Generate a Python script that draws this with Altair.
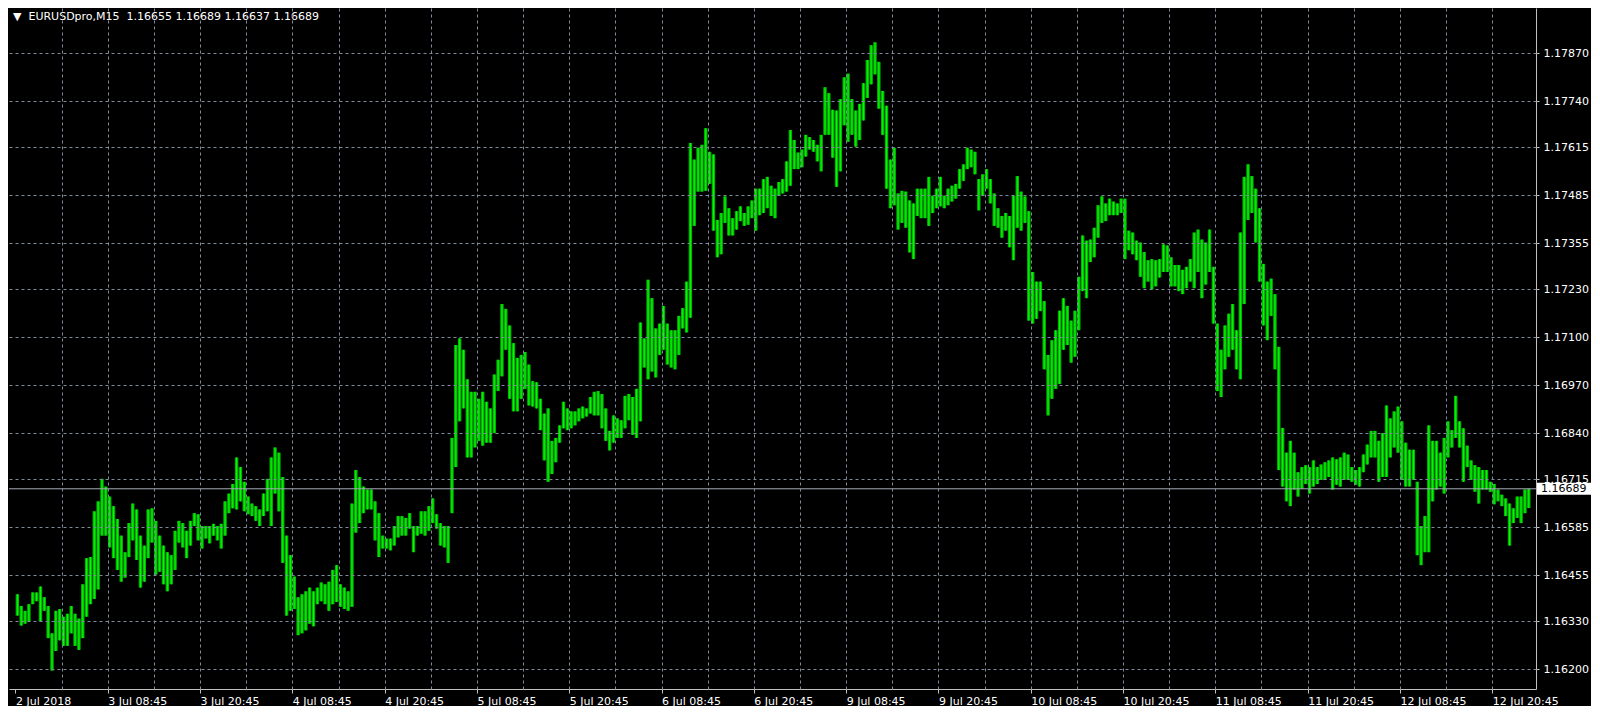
import json
import pandas as pd
import altair as alt

# ---------------- data ----------------
symbol = "EURUSDpro,M15"
last_ohlc = [1.16655, 1.16689, 1.16637, 1.16689]
bid = 1.16689

price_ticks = [1.16200, 1.16330, 1.16455, 1.16585, 1.16715, 1.16840, 1.16970,
               1.17100, 1.17230, 1.17355, 1.17485, 1.17615, 1.17740, 1.17870]

# labels every 12 hours (24 half-hour columns)
time_labels = ["2 Jul 2018", "3 Jul 08:45", "3 Jul 20:45", "4 Jul 08:45", "4 Jul 20:45",
               "5 Jul 08:45", "5 Jul 20:45", "6 Jul 08:45", "6 Jul 20:45", "9 Jul 08:45",
               "9 Jul 20:45", "10 Jul 08:45", "10 Jul 20:45", "11 Jul 08:45", "11 Jul 20:45",
               "12 Jul 08:45", "12 Jul 20:45"]

# high / low of each 30-minute column (two M15 bars)
highs = [
    1.16403, 1.16371, 1.16358, 1.16376, 1.16408, 1.16408, 1.16424, 1.16395, 1.16371, 1.16297,
    1.16358, 1.16363, 1.16342, 1.16350, 1.16371, 1.16350, 1.16337, 1.16430, 1.16501, 1.16504,
    1.16628, 1.16655, 1.16716, 1.16695, 1.16668, 1.16642, 1.16607, 1.16562, 1.16517, 1.16596,
    1.16649, 1.16633, 1.16562, 1.16535, 1.16633, 1.16636, 1.16602, 1.16562, 1.16535, 1.16517,
    1.16509, 1.16575, 1.16602, 1.16596, 1.16575, 1.16602, 1.16623, 1.16620, 1.16588, 1.16588,
    1.16588, 1.16594, 1.16588, 1.16594, 1.16655, 1.16676, 1.16702, 1.16774, 1.16748, 1.16708,
    1.16668, 1.16649, 1.16642, 1.16633, 1.16676, 1.16716, 1.16774, 1.16801, 1.16787, 1.16721,
    1.16562, 1.16509, 1.16451, 1.16395, 1.16403, 1.16411, 1.16421, 1.16411, 1.16421, 1.16435,
    1.16430, 1.16437, 1.16469, 1.16482, 1.16430, 1.16421, 1.16411, 1.16649, 1.16740, 1.16721,
    1.16695, 1.16687, 1.16687, 1.16655, 1.16623, 1.16562, 1.16554, 1.16554, 1.16588, 1.16615,
    1.16615, 1.16610, 1.16623, 1.16588, 1.16588, 1.16628, 1.16628, 1.16642, 1.16663, 1.16620,
    1.16596, 1.16588, 1.16588, 1.16827, 1.17079, 1.17097, 1.17066, 1.16986, 1.16952, 1.16952,
    1.16933, 1.16952, 1.16925, 1.16907, 1.16999, 1.17039, 1.17190, 1.17177, 1.17132, 1.17084,
    1.17044, 1.17052, 1.17060, 1.17026, 1.16981, 1.16978, 1.16933, 1.16893, 1.16907, 1.16819,
    1.16827, 1.16861, 1.16925, 1.16907, 1.16899, 1.16899, 1.16907, 1.16912, 1.16907, 1.16938,
    1.16952, 1.16954, 1.16946, 1.16907, 1.16846, 1.16888, 1.16880, 1.16875, 1.16941, 1.16946,
    1.16938, 1.16960, 1.17140, 1.17097, 1.17256, 1.17206, 1.17124, 1.17137, 1.17185, 1.17137,
    1.17119, 1.17119, 1.17158, 1.17179, 1.17251, 1.17627, 1.17582, 1.17614, 1.17622, 1.17667,
    1.17603, 1.17596, 1.17418, 1.17437, 1.17482, 1.17450, 1.17423, 1.17442, 1.17455, 1.17437,
    1.17455, 1.17471, 1.17503, 1.17503, 1.17529, 1.17535, 1.17511, 1.17503, 1.17521, 1.17529,
    1.17577, 1.17662, 1.17635, 1.17601, 1.17609, 1.17649, 1.17643, 1.17635, 1.17622, 1.17649,
    1.17778, 1.17762, 1.17717, 1.17715, 1.17746, 1.17805, 1.17815, 1.17746, 1.17715, 1.17733,
    1.17789, 1.17852, 1.17892, 1.17900, 1.17847, 1.17768, 1.17728, 1.17582, 1.17614, 1.17490,
    1.17497, 1.17495, 1.17471, 1.17463, 1.17503, 1.17503, 1.17503, 1.17535, 1.17484, 1.17503,
    1.17535, 1.17484, 1.17503, 1.17511, 1.17516, 1.17556, 1.17569, 1.17614, 1.17609, 1.17603,
    1.17529, 1.17542, 1.17556, 1.17529, 1.17490, 1.17450, 1.17429, 1.17437, 1.17429, 1.17484,
    1.17537, 1.17495, 1.17482, 1.17442, 1.17277, 1.17251, 1.17251, 1.17198, 1.17052, 1.17092,
    1.17119, 1.17172, 1.17206, 1.17185, 1.17145, 1.17172, 1.17264, 1.17376, 1.17362, 1.17365,
    1.17397, 1.17458, 1.17482, 1.17463, 1.17476, 1.17468, 1.17463, 1.17476, 1.17476, 1.17389,
    1.17384, 1.17362, 1.17357, 1.17331, 1.17309, 1.17312, 1.17309, 1.17312, 1.17352, 1.17349,
    1.17317, 1.17296, 1.17296, 1.17283, 1.17291, 1.17312, 1.17384, 1.17392, 1.17365, 1.17357,
    1.17392, 1.17291, 1.17137, 1.17066, 1.17132, 1.17164, 1.17190, 1.17119, 1.17384, 1.17535,
    1.17569, 1.17537, 1.17503, 1.17450, 1.17299, 1.17251, 1.17259, 1.17217, 1.17074, 1.16854,
    1.16787, 1.16819, 1.16787, 1.16734, 1.16748, 1.16753, 1.16748, 1.16766, 1.16748, 1.16755,
    1.16761, 1.16766, 1.16774, 1.16769, 1.16774, 1.16787, 1.16782, 1.16748, 1.16740, 1.16748,
    1.16782, 1.16809, 1.16846, 1.16846, 1.16819, 1.16840, 1.16915, 1.16880, 1.16899, 1.16912,
    1.16872, 1.16814, 1.16795, 1.16795, 1.16708, 1.16588, 1.16615, 1.16861, 1.16819, 1.16819,
    1.16787, 1.16827, 1.16872, 1.16848, 1.16941, 1.16872, 1.16853, 1.16806, 1.16766, 1.16753,
    1.16748, 1.16740, 1.16740, 1.16708, 1.16702, 1.16687, 1.16673, 1.16663, 1.16649, 1.16636,
    1.16668, 1.16668, 1.16687, 1.16689,
]

lows = [
    1.16345, 1.16318, 1.16323, 1.16329, 1.16376, 1.16384, 1.16329, 1.16358, 1.16284, 1.16196,
    1.16249, 1.16278, 1.16263, 1.16263, 1.16297, 1.16263, 1.16252, 1.16284, 1.16342, 1.16376,
    1.16390, 1.16416, 1.16562, 1.16562, 1.16530, 1.16501, 1.16469, 1.16437, 1.16448, 1.16504,
    1.16549, 1.16496, 1.16421, 1.16437, 1.16501, 1.16543, 1.16456, 1.16464, 1.16430, 1.16411,
    1.16430, 1.16469, 1.16543, 1.16530, 1.16501, 1.16535, 1.16588, 1.16549, 1.16527, 1.16554,
    1.16541, 1.16562, 1.16549, 1.16527, 1.16562, 1.16623, 1.16636, 1.16633, 1.16655, 1.16628,
    1.16620, 1.16615, 1.16602, 1.16588, 1.16615, 1.16628, 1.16588, 1.16676, 1.16628, 1.16488,
    1.16345, 1.16358, 1.16363, 1.16292, 1.16297, 1.16305, 1.16323, 1.16316, 1.16376, 1.16384,
    1.16376, 1.16358, 1.16376, 1.16382, 1.16369, 1.16363, 1.16358, 1.16369, 1.16570, 1.16596,
    1.16623, 1.16633, 1.16633, 1.16549, 1.16504, 1.16527, 1.16527, 1.16522, 1.16535, 1.16557,
    1.16562, 1.16562, 1.16581, 1.16517, 1.16562, 1.16567, 1.16562, 1.16575, 1.16596, 1.16581,
    1.16535, 1.16530, 1.16488, 1.16623, 1.16748, 1.16872, 1.16907, 1.16774, 1.16774, 1.16801,
    1.16819, 1.16806, 1.16814, 1.16814, 1.16840, 1.16954, 1.16994, 1.17066, 1.16933, 1.16899,
    1.16899, 1.16933, 1.16960, 1.16915, 1.16912, 1.16907, 1.16848, 1.16766, 1.16708, 1.16729,
    1.16761, 1.16814, 1.16853, 1.16848, 1.16853, 1.16861, 1.16872, 1.16880, 1.16885, 1.16893,
    1.16888, 1.16888, 1.16853, 1.16819, 1.16793, 1.16814, 1.16827, 1.16827, 1.16853, 1.16875,
    1.16835, 1.16827, 1.16872, 1.17018, 1.16986, 1.17007, 1.16991, 1.17052, 1.17066, 1.17026,
    1.17018, 1.17013, 1.17052, 1.17124, 1.17113, 1.17153, 1.17402, 1.17495, 1.17495, 1.17497,
    1.17516, 1.17389, 1.17317, 1.17325, 1.17410, 1.17376, 1.17376, 1.17392, 1.17415, 1.17402,
    1.17405, 1.17423, 1.17389, 1.17431, 1.17437, 1.17450, 1.17429, 1.17423, 1.17484, 1.17490,
    1.17495, 1.17511, 1.17556, 1.17556, 1.17561, 1.17590, 1.17609, 1.17603, 1.17577, 1.17550,
    1.17649, 1.17649, 1.17587, 1.17508, 1.17550, 1.17675, 1.17630, 1.17649, 1.17617, 1.17635,
    1.17688, 1.17749, 1.17786, 1.17813, 1.17720, 1.17649, 1.17503, 1.17450, 1.17458, 1.17392,
    1.17410, 1.17397, 1.17330, 1.17312, 1.17429, 1.17423, 1.17423, 1.17402, 1.17437, 1.17450,
    1.17455, 1.17450, 1.17458, 1.17468, 1.17476, 1.17503, 1.17524, 1.17556, 1.17561, 1.17542,
    1.17444, 1.17484, 1.17503, 1.17463, 1.17402, 1.17397, 1.17370, 1.17389, 1.17344, 1.17309,
    1.17397, 1.17389, 1.17410, 1.17145, 1.17137, 1.17150, 1.17171, 1.17013, 1.16888, 1.16933,
    1.16960, 1.16973, 1.17066, 1.17079, 1.17031, 1.17047, 1.17119, 1.17225, 1.17206, 1.17304,
    1.17317, 1.17370, 1.17410, 1.17415, 1.17431, 1.17431, 1.17431, 1.17437, 1.17312, 1.17336,
    1.17325, 1.17309, 1.17264, 1.17233, 1.17251, 1.17230, 1.17238, 1.17262, 1.17277, 1.17277,
    1.17238, 1.17238, 1.17225, 1.17217, 1.17233, 1.17251, 1.17233, 1.17277, 1.17206, 1.17243,
    1.17277, 1.17137, 1.16954, 1.16938, 1.17013, 1.17047, 1.17066, 1.17013, 1.16986, 1.17190,
    1.17418, 1.17437, 1.17357, 1.17251, 1.17132, 1.17092, 1.17158, 1.17013, 1.16740, 1.16695,
    1.16655, 1.16642, 1.16687, 1.16668, 1.16689, 1.16702, 1.16676, 1.16695, 1.16702, 1.16713,
    1.16713, 1.16721, 1.16687, 1.16700, 1.16695, 1.16713, 1.16713, 1.16708, 1.16700, 1.16695,
    1.16734, 1.16755, 1.16774, 1.16774, 1.16708, 1.16721, 1.16721, 1.16774, 1.16801, 1.16787,
    1.16713, 1.16695, 1.16695, 1.16713, 1.16509, 1.16482, 1.16517, 1.16517, 1.16655, 1.16687,
    1.16695, 1.16676, 1.16774, 1.16801, 1.16827, 1.16801, 1.16708, 1.16748, 1.16713, 1.16681,
    1.16649, 1.16687, 1.16687, 1.16681, 1.16647, 1.16655, 1.16642, 1.16615, 1.16535, 1.16596,
    1.16610, 1.16596, 1.16623, 1.16637,
]

# ---------------- styling ----------------
FONT = "DejaVu Sans"
GRID = "#7f8b9a"
AXC = "#c0c0c0"
W, H = 1527, 681
XDOM = [-0.38, 394.08]
YDOM = [1.16146, 1.17993]

n = min(len(highs), len(lows))
df = pd.DataFrame({"t": list(range(n)), "high": highs[:n], "low": lows[:n]})

xs = alt.Scale(domain=XDOM, nice=False, zero=False)
ys = alt.Scale(domain=YDOM, nice=False, zero=False)

label_vals = [24 * k for k in range(len(time_labels))]
grid_vals = [12 * k for k in range(1, 2 * len(time_labels) - 1)]
label_expr = json.dumps(time_labels) + "[round(datum.value / 24)]"

x_grid_axis = alt.Axis(orient="top", values=grid_vals, grid=True, gridColor=GRID,
                       gridDash=[3, 3], gridWidth=1, labels=False, ticks=False,
                       domain=False, title=None, zindex=1, minExtent=0)
y_grid_axis = alt.Axis(orient="left", values=price_ticks, grid=True, gridColor=GRID,
                       gridDash=[3, 3], gridWidth=1, labels=False, ticks=False,
                       domain=False, title=None, zindex=1, minExtent=0)
x_lab_axis = alt.Axis(orient="bottom", values=label_vals, labelExpr=label_expr,
                      grid=False, labelAlign="left", labelPadding=2, tickSize=4,
                      tickColor=AXC, domainColor=AXC, labelColor="#ffffff",
                      labelFont=FONT, labelFontSize=11, labelFlush=False,
                      labelOverlap=False, labelBound=False, title=None, minExtent=0)
y_lab_axis = alt.Axis(orient="right", values=price_ticks, format=".5f", grid=False,
                      labelPadding=4, tickSize=3, tickColor=AXC, domainColor=AXC,
                      labelColor="#ffffff", labelFont=FONT, labelFontSize=11,
                      labelFlush=False, labelOverlap=False, title=None, minExtent=0)

base = alt.Chart(df).transform_calculate(tc="datum.t + 0.5")

bars = base.mark_bar(width=3.4, color="#00b800").encode(
    x=alt.X("tc:Q", scale=xs, axis=x_grid_axis),
    y=alt.Y("low:Q", scale=ys, axis=y_grid_axis),
    y2="high:Q",
)

wicks = base.mark_rule(color="#00ff00", strokeWidth=1).encode(
    x=alt.X("tc:Q", scale=xs, axis=x_lab_axis),
    y=alt.Y("low:Q", scale=ys, axis=y_lab_axis),
    y2="high:Q",
)

bid_df = pd.DataFrame({"p": [bid], "lab": [f"{bid:.5f}"]})
bid_line = alt.Chart(bid_df).mark_rule(color="#a8aab8", strokeWidth=1).encode(
    y=alt.Y("p:Q", scale=ys, axis=None)
)
box_shape = "M-1,-0.222L1,-0.222L1,0.222L-1,0.222Z"
bid_box = alt.Chart(bid_df).mark_point(
    shape=box_shape, size=2916, filled=True, color="#ffffff", opacity=1, strokeWidth=0
).encode(x=alt.value(W + 28), y=alt.Y("p:Q", scale=ys, axis=None))
bid_text = alt.Chart(bid_df).mark_text(
    align="left", baseline="middle", color="#000000", font=FONT, fontSize=11
).encode(x=alt.value(W + 5), y=alt.Y("p:Q", scale=ys, axis=None), text="lab:N")

header = "\u25bc\u00a0\u00a0" + symbol + "\u00a0\u00a0" + " ".join(f"{v:.5f}" for v in last_ohlc)
head = alt.Chart(pd.DataFrame({"h": [header]})).mark_text(
    align="left", baseline="middle", color="#ffffff", font=FONT, fontSize=11
).encode(x=alt.value(4), y=alt.value(9), text="h:N")

chart = alt.layer(bars, wicks, bid_line, bid_box, bid_text, head).resolve_axis(
    x="independent", y="independent"
).properties(
    width=W, height=H, padding=0, background="#000000",
).configure_view(strokeOpacity=0)

chart.save("out.html", embed_options={"renderer": "svg", "actions": False})
